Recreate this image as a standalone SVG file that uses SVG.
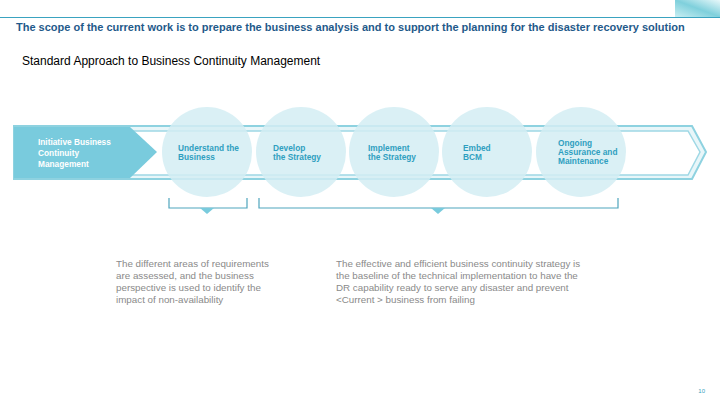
<svg xmlns="http://www.w3.org/2000/svg" width="720" height="405" viewBox="0 0 720 405">
<defs>
<linearGradient id="g" x1="0" y1="1" x2="1" y2="0"><stop offset="0" stop-color="#c8eef2"/><stop offset="0.5" stop-color="#7fd0dc"/><stop offset="1" stop-color="#e8f8fa"/></linearGradient>
<style>
.t{font-family:"Liberation Sans",Arial,sans-serif}
.c{fill:#d3edf3;opacity:0.85}
.lbl{font-family:"Liberation Sans",Arial,sans-serif;font-size:8.3px;font-weight:bold;fill:#2f9fc0}
.br{fill:none;stroke:#4fa5bd;stroke-width:1.2}
.d{font-family:"Liberation Sans",Arial,sans-serif;font-size:9.8px;fill:#8a8a8a}
</style>
</defs>
<rect width="720" height="405" fill="#fff"/>
<rect x="675" y="0" width="45" height="17" fill="url(#g)"/>
<line x1="0" y1="17.5" x2="720" y2="17.5" stroke="#3aa3c0" stroke-width="1"/>
<text class="t" x="16" y="31" font-size="11" font-weight="bold" fill="#1f5a8a">The scope of the current work is to prepare the business analysis and to support the planning for the disaster recovery solution</text>
<text class="t" x="22" y="65" font-size="12" fill="#000">Standard Approach to Business Continuity Management</text>
<g id="arrow">
<polygon points="14,126 692,126 706,152 692,179 14,179" fill="#e8f6f9" stroke="#8ed2e0" stroke-width="2"/>
<polygon points="18,131 688,131 700,152 688,175 18,175" fill="#fff" stroke="#9fd8e5" stroke-width="1.5"/>
<polygon points="14,127 130,127 157,152 130,178 14,178" fill="#79cbdd"/>
<text class="lbl" x="38" y="145" style="fill:#fff">Initiative Business</text>
<text class="lbl" x="38" y="156" style="fill:#fff">Continuity</text>
<text class="lbl" x="38" y="167" style="fill:#fff">Management</text>
</g>
<g id="n1"><circle class="c" cx="207" cy="152" r="45"/><text class="lbl" x="178" y="151">Understand the</text><text class="lbl" x="178" y="160">Business</text></g>
<g id="n2"><circle class="c" cx="301" cy="152" r="45"/><text class="lbl" x="273" y="151">Develop</text><text class="lbl" x="273" y="160">the Strategy</text></g>
<g id="n3"><circle class="c" cx="394" cy="152" r="45"/><text class="lbl" x="368" y="151">Implement</text><text class="lbl" x="368" y="160">the Strategy</text></g>
<g id="n4"><circle class="c" cx="487" cy="152" r="45"/><text class="lbl" x="463" y="151">Embed</text><text class="lbl" x="463" y="160">BCM</text></g>
<g id="n5"><circle class="c" cx="581" cy="152" r="45"/><text class="lbl" x="558" y="146">Ongoing</text><text class="lbl" x="558" y="155">Assurance and</text><text class="lbl" x="558" y="164">Maintenance</text></g>
<g id="connectors">
<polyline class="br" points="169,198 169,208 247,208 247,198"/>
<polygon points="200,208 214,208 207,214" fill="#79cbdd"/>
<polyline class="br" points="259,198 259,208 618,208 618,198"/>
<polygon points="431,208 445,208 438,214" fill="#79cbdd"/>
</g>
<g id="desc1"><text class="d" x="116" y="267">The different areas of requirements</text><text class="d" x="116" y="279">are assessed, and the business</text><text class="d" x="116" y="291">perspective is used to identify the</text><text class="d" x="116" y="303">impact of non-availability</text></g>
<g id="desc2"><text class="d" x="336" y="267">The effective and efficient business continuity strategy is</text><text class="d" x="336" y="279">the baseline of the technical implementation to have the</text><text class="d" x="336" y="291">DR capability ready to serve any disaster and prevent</text><text class="d" x="336" y="303">&lt;Current &gt; business from failing</text></g>
<text class="t" x="705" y="393" font-size="6" fill="#3aa3c0" text-anchor="end">10</text>
</svg>
